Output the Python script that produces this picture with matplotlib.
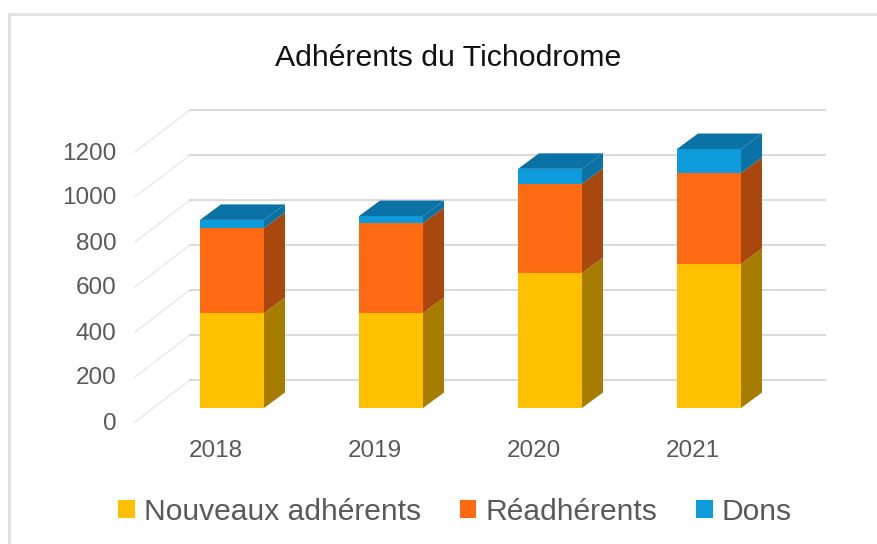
import matplotlib
matplotlib.use('Agg')
import matplotlib.pyplot as plt
from matplotlib.lines import Line2D
from matplotlib.transforms import ScaledTranslation
import numpy as np

years = ['2018', '2019', '2020', '2021']
nouveaux = np.array([422, 422, 600, 640])
readherents = np.array([378, 400, 396, 404])
dons = np.array([36, 31, 67, 107])
y_ticks = [0, 200, 400, 600, 800, 1000, 1200]

W, H = 878, 544
PX_X = 159      # pixels per category
PX_Y = 0.225    # pixels per adherent
X0, Y0 = 232, 408  # pixel of first bar centre / value 0

# depth of the fake 3d, data units
bar_dx, bar_dy = 21 / PX_X, 15.5 / PX_Y
wall_back_x, wall_front_x = (190 - X0) / PX_X, (135 - X0) / PX_X
wall_right_x = (825 - X0) / PX_X
wall_back_dy, wall_front_dy = (Y0 - 380) / PX_Y, (Y0 - 422) / PX_Y
width = 64 / PX_X

plt.rcParams['font.family'] = ['Liberation Sans', 'DejaVu Sans']

fig = plt.figure(figsize=(W / 100, H / 100), dpi=100)
left, right, top, bottom = 125, 830, 100, 425
ax = fig.add_axes([left / W, 1 - bottom / H, (right - left) / W, (bottom - top) / H])
ax.set_xlim((left - X0) / PX_X, (right - X0) / PX_X)
ax.set_ylim((Y0 - bottom) / PX_Y, (Y0 - top) / PX_Y)
for s in ax.spines.values():
    s.set_visible(False)

for v in y_ticks:
    ax.plot([wall_front_x, wall_back_x], [v + wall_front_dy, v + wall_back_dy],
            color='#ececec', lw=1.2, zorder=1, clip_on=False)
    ax.plot([wall_back_x, wall_right_x], [v + wall_back_dy, v + wall_back_dy],
            color='#d9d9d9', lw=1.4, zorder=1, clip_on=False)

x = np.arange(len(years))
series = [('Nouveaux adhérents', nouveaux, '#FFC000', '#A67D00'),
          ('Réadhérents', readherents, '#FF6A13', '#A8480E'),
          ('Dons', dons, '#0D9BDB', '#0A72A4')]

base = np.zeros(len(years))
handles = []
for label, vals, front, side in series:
    bars = ax.bar(x, vals, width, bottom=base, color=front, label=label, zorder=3)
    handles.append(bars)
    for xi, b, v in zip(x, base, vals):
        xr = xi + width / 2
        ax.fill([xr, xr + bar_dx, xr + bar_dx, xr],
                [b, b + bar_dy, b + v + bar_dy, b + v], color=side, lw=0, zorder=3)
    base = base + vals

# top faces take the darker blue
for xi, t in zip(x, base):
    xl, xr = xi - width / 2, xi + width / 2
    ax.fill([xl, xr, xr + bar_dx, xl + bar_dx], [t, t, t + bar_dy, t + bar_dy],
            color=series[-1][3], lw=0, zorder=3)

ax.set_xticks(x, years)
ax.set_yticks(y_ticks)
ax.tick_params(length=0, labelsize=17.5, labelcolor='#595959')
ax.tick_params(axis='x', pad=11)
ax.tick_params(axis='y', pad=6)
for lab in ax.get_xticklabels():
    lab.set_transform(lab.get_transform() + ScaledTranslation(-16 / 100, 0, fig.dpi_scale_trans))
for lab in ax.get_yticklabels():
    lab.set_transform(lab.get_transform() + ScaledTranslation(0, -13 / 100, fig.dpi_scale_trans))

fig.text(448 / W, 1 - 58 / H, 'Adhérents du Tichodrome', fontsize=21.8, color='#111111',
         ha='center', va='center')

fig.legend(handles=handles, loc='center', bbox_to_anchor=(455 / W, 1 - 512 / H), ncol=3,
           frameon=False, fontsize=21.6, labelcolor='#595959', handlelength=0.55,
           handleheight=0.55, handletextpad=0.3, columnspacing=1.3)

border = '#e0e0e0'
fig.add_artist(Line2D([9 / W, 9 / W], [0, 1 - 14 / H], color=border, lw=2))
fig.add_artist(Line2D([9 / W, 1], [1 - 14 / H, 1 - 14 / H], color=border, lw=2))

fig.savefig('out.png', dpi=100)
